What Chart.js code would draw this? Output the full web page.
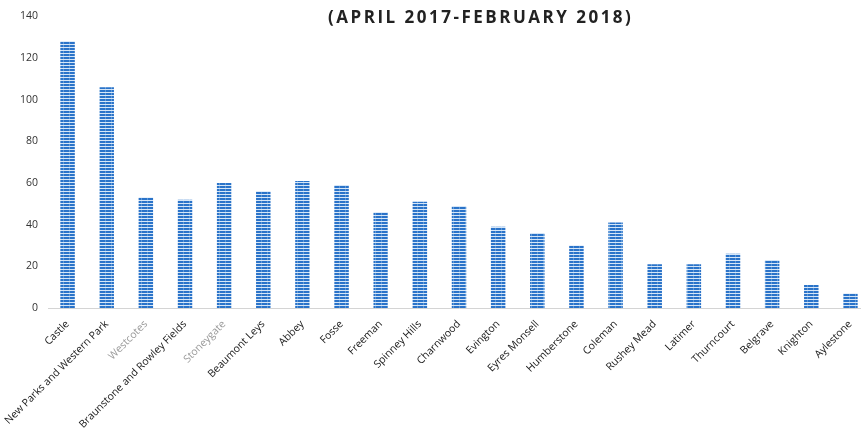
<!DOCTYPE html>
<html>
<head>
<meta charset="utf-8">
<script src="https://cdn.jsdelivr.net/npm/chart.js@4"></script>
<style>
  html, body { margin: 0; padding: 0; background: #fff; overflow: hidden; }
  #wrap { position: relative; width: 861px; height: 428px; overflow: hidden; }
  #title {
    position: absolute; left: 328px; top: 5px;
    font-family: "Open Sans", sans-serif; font-weight: bold; font-size: 17px;
    letter-spacing: 2.5px; color: #222; white-space: nowrap;
  }
  canvas { position: absolute; left: 0; top: 0; }
</style>
</head>
<body>
<div id="wrap">
  <canvas id="chart" width="870" height="428"></canvas>
  <div id="title">(APRIL 2017-FEBRUARY 2018)</div>
</div>
<script>
// wards and counts
const wards = ["Castle", "New Parks and Western Park", "Westcotes", "Braunstone and Rowley Fields",
  "Stoneygate", "Beaumont Leys", "Abbey", "Fosse", "Freeman", "Spinney Hills", "Charnwood",
  "Evington", "Eyres Monsell", "Humberstone", "Coleman", "Rushey Mead", "Latimer", "Thurncourt",
  "Belgrave", "Knighton", "Aylestone"];
const counts = [128, 106, 53, 52, 60, 56, 61, 59, 46, 51, 49, 39, 36, 30, 41, 21, 21, 26, 23, 11, 7];
const yTicks = [0, 20, 40, 60, 80, 100, 120, 140];
// the scan washed out a couple of labels
const fadedLabels = ["Westcotes", "Stoneygate"];

function stripePattern() {
    const c = document.createElement("canvas");
    c.width = 6; c.height = 3;
    const g = c.getContext("2d");
    g.fillStyle = "#d6e6f7";
    g.fillRect(0, 0, 6, 3);
    g.fillStyle = "#2a73c9";
    g.fillRect(0, 0, 6, 2);
    g.fillStyle = "#5f9ad9";
    g.fillRect(3, 0, 1, 2);
    return g.createPattern(c, "repeat");
}

const ctx = document.getElementById("chart").getContext("2d");

new Chart(ctx, {
    type: "bar",
    data: {
        labels: wards,
        datasets: [{
            data: counts,
            backgroundColor: stripePattern(),
            borderWidth: 0,
            barPercentage: 0.37,
            categoryPercentage: 1
        }]
    },
    options: {
        responsive: false,
        animation: false,
        layout: { padding: { top: 10, right: 0, bottom: 0, left: 0 } },
        plugins: { legend: { display: false }, tooltip: { enabled: false } },
        scales: {
            x: {
                grid: { display: false, drawTicks: false },
                border: { display: true, color: "#d4d4d4", width: 1 },
                ticks: {
                    autoSkip: false,
                    maxRotation: 45,
                    minRotation: 45,
                    padding: 10,
                    font: { family: "Open Sans", size: 10.5 },
                    color: c => fadedLabels.includes(wards[c.index]) ? "#9a9a9a" : "#1a1a1a"
                },
                afterFit: s => { s.height = 120; }
            },
            y: {
                min: 0,
                max: 140,
                afterBuildTicks: s => { s.ticks = yTicks.map(v => ({ value: v })); },
                grid: { display: false, drawTicks: false },
                border: { display: false },
                ticks: {
                    padding: 10,
                    font: { family: "Open Sans", size: 10.5 },
                    color: "#333"
                },
                afterFit: s => { s.width = 48; }
            }
        }
    }
});
</script>
</body>
</html>
